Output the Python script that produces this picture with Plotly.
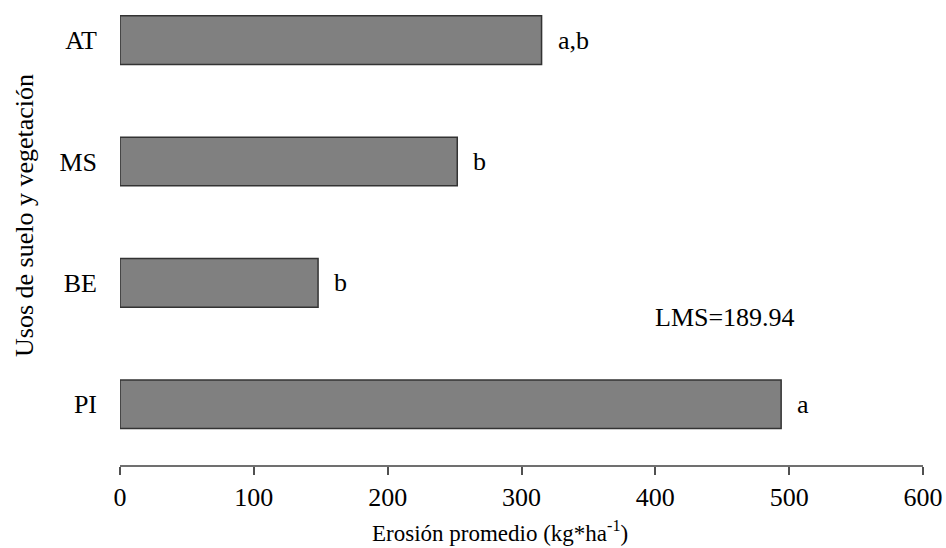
import plotly.graph_objects as go

categories = ["PI", "BE", "MS", "AT"]
values = [494, 148, 252, 315]
letters = ["a", "b", "b", "a,b"]
x_ticks = [0, 100, 200, 300, 400, 500, 600]
lms_text = "LMS=189.94"
x_title = "Erosión promedio (kg*ha<sup>-1</sup>)"
y_title = "Usos de suelo y vegetación"

FONT = "Liberation Serif, Times New Roman, serif"

fig = go.Figure()
fig.add_trace(go.Bar(
    x=values, y=categories, orientation="h",
    marker=dict(color="#808080", line=dict(color="#333333", width=1.5)),
    width=0.4, hoverinfo="skip",
))

for cat, val, lab in zip(categories, values, letters):
    fig.add_annotation(x=val, y=cat, text=lab, showarrow=False,
                       xanchor="left", yanchor="middle", xshift=14,
                       font=dict(family=FONT, size=26, color="black"))

fig.add_annotation(x=(725 - 120) / 803, y=(465 - 317) / 455, xref="paper", yref="paper",
                   text=lms_text, showarrow=False, xanchor="center", yanchor="middle",
                   font=dict(family=FONT, size=26, color="black"))

fig.add_annotation(x=(500 - 120) / 803, y=(465 - 531) / 455, xref="paper", yref="paper",
                   text=x_title, showarrow=False, xanchor="center", yanchor="middle",
                   font=dict(family=FONT, size=23, color="black"))
fig.add_annotation(x=(25 - 120) / 803, y=(465 - 216) / 455, xref="paper", yref="paper",
                   text=y_title, showarrow=False, textangle=-90, xanchor="center", yanchor="middle",
                   font=dict(family=FONT, size=26, color="black"))

fig.update_layout(
    width=946, height=548,
    margin=dict(l=120, r=23, t=10, b=83, autoexpand=False),
    plot_bgcolor="white", paper_bgcolor="white",
    showlegend=False,
    font=dict(family=FONT, size=26, color="black"),
    xaxis=dict(range=[0, 600], tickvals=x_ticks, showgrid=False, zeroline=False,
               showline=True, linecolor="#707070", linewidth=2, automargin=False,
               ticks="outside", ticklen=8, tickcolor="#505050", tickwidth=1.5,
               tickfont=dict(family=FONT, size=26, color="black")),
    yaxis=dict(range=[-0.5, -0.5 + 455 / 121.4], showgrid=False, zeroline=False,
               showline=False, ticks="", ticklabelstandoff=22, automargin=False,
               tickfont=dict(family=FONT, size=26, color="black")),
)

fig.write_html("out.html")
